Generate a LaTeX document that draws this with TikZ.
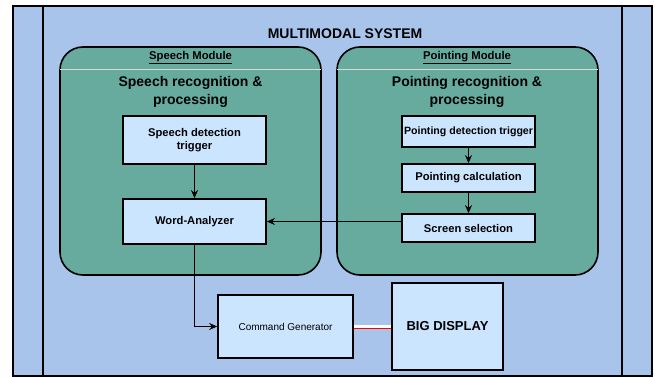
\documentclass[tikz,border=0pt]{standalone}
\usepackage{fontspec}
\setmainfont{Liberation Sans}
\usetikzlibrary{arrows.meta}
\definecolor{bgblue}{HTML}{A9C4EB}
\definecolor{modgreen}{HTML}{67AB9F}
\definecolor{boxblue}{HTML}{CCE5FF}
\begin{document}
\begin{tikzpicture}[x=1pt,y=-1pt,
  module/.style={draw=black,line width=1.6pt,fill=modgreen,rounded corners=23pt},
  procbox/.style={draw=black,line width=1.7pt,fill=boxblue,inner sep=0pt,align=center,font=\bfseries\fontsize{11.2}{13.5}\selectfont},
  conn/.style={line width=1pt,-{Stealth[length=8pt,width=7pt]}},
  lbl/.style={inner sep=0pt,align=center}]
\useasboundingbox (0,0) rectangle (655,377);
% outer system
\draw[fill=bgblue,line width=1.5pt] (13,6) rectangle (652,376);
\draw[line width=1.5pt] (43,6) -- (43,376);
\draw[line width=1.5pt] (622,6) -- (622,376);
\node[lbl,font=\bfseries\fontsize{14}{16}\selectfont] (title) at (345,34) {MULTIMODAL SYSTEM};
% speech module
\draw[module] (60,47) rectangle (321,275);
\draw[white!70!gray,line width=0.8pt] (60,69) -- (321,69);
\node[lbl,font=\bfseries\fontsize{11.3}{13}\selectfont] (smh) at (190.5,57.5) {\underline{Speech Module}};
\node[lbl,font=\bfseries\fontsize{14}{18}\selectfont] (smt) at (190.5,92) {Speech recognition \&\\processing};
% pointing module
\draw[module] (337,47) rectangle (598,275);
\draw[white!70!gray,line width=0.8pt] (337,69) -- (598,69);
\node[lbl,font=\bfseries\fontsize{11.3}{13}\selectfont] (pmh) at (467,57.5) {\underline{Pointing Module}};
\node[lbl,font=\bfseries\fontsize{14}{18}\selectfont] (pmt) at (467,92) {Pointing recognition \&\\processing};
% speech boxes
\node[procbox,minimum width=143pt,minimum height=48pt] (sdt) at (194.5,140) {Speech detection\\trigger};
\node[procbox,minimum width=143pt,minimum height=45pt] (wa) at (194.5,221.5) {Word-Analyzer};
% pointing boxes
\node[procbox,minimum width=133pt,minimum height=31pt,font=\bfseries\fontsize{10.6}{12}\selectfont] (pdt) at (468.5,131.5) {Pointing detection trigger};
\node[procbox,minimum width=133pt,minimum height=28pt] (pc) at (468.5,178) {Pointing calculation};
\node[procbox,minimum width=133pt,minimum height=28pt] (ss) at (468.5,228) {Screen selection};
% bottom boxes
\node[procbox,minimum width=135pt,minimum height=63pt,font=\fontsize{10}{12}\selectfont] (cg) at (285.5,326.5) {Command Generator};
\node[procbox,minimum width=111pt,minimum height=87pt,font=\bfseries\fontsize{13}{15}\selectfont] (bd) at (447.5,326.5) {BIG DISPLAY};
% connectors
\draw[conn] (sdt) -- (wa);
\draw[conn] (pdt) -- (pc);
\draw[conn] (pc) -- (ss);
\draw[conn] (ss.west |- wa.east) -- (wa.east);
\draw[conn] (wa.south) |- (cg.west);
\draw[draw=red,double=white,double distance=2.4pt,line width=0.8pt] (cg.east) -- (bd.west);
\end{tikzpicture}
\end{document}
